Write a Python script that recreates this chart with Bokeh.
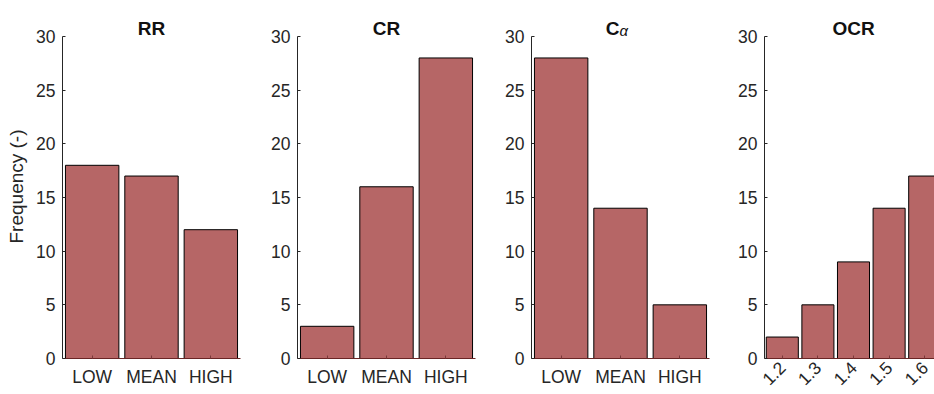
import math
from bokeh.plotting import figure
from bokeh.layouts import row
from bokeh.models import FactorRange, Range1d, FixedTicker, Label
from bokeh.embed import file_html
from bokeh.resources import INLINE

# ---- data ----
categories = ["LOW", "MEAN", "HIGH"]
rr_counts = [18, 17, 12]
cr_counts = [3, 16, 28]
ca_counts = [28, 14, 5]
ocr_bins = [1.2, 1.3, 1.4, 1.5, 1.6]
ocr_counts = [2, 5, 9, 14, 17]
y_ticks = [0, 5, 10, 15, 20, 25, 30]

FONT = "Liberation Sans"
BAR = "#b66666"
AX = "#262626"
H = 393
TOP = 14
BOTTOM = 35
YMAX = 30 * 344 / 322   # frame extends above 30 so titles can live inside it
CAT_MID = len(categories) / 2
OCR_MID = (ocr_bins[0] + ocr_bins[-1]) / 2


def title_label(p, x, text, align="center", x_offset=0):
    p.add_layout(Label(x=x, y=30, text=text, x_offset=x_offset, y_offset=8,
                       text_font=FONT, text_font_size="19px", text_font_style="bold",
                       text_color="#111111", text_align=align, text_baseline="alphabetic"))


def make(width, left, right, x_range):
    p = figure(width=width, height=H, x_range=x_range, y_range=Range1d(0, YMAX),
               title=None, output_backend="svg", toolbar_location=None,
               min_border_left=left, min_border_right=right,
               min_border_top=TOP, min_border_bottom=BOTTOM)
    p.outline_line_color = None
    p.xgrid.visible = False
    p.ygrid.visible = False
    p.background_fill_color = "white"
    p.border_fill_color = "white"
    ya = p.yaxis[0]
    ya.ticker = FixedTicker(ticks=y_ticks)
    ya.bounds = (0, 30)
    ya.major_tick_in = 3
    ya.major_tick_out = 0
    ya.minor_tick_in = 0
    ya.minor_tick_out = 0
    ya.axis_line_color = AX
    ya.major_tick_line_color = AX
    ya.major_label_text_font = FONT
    ya.major_label_text_font_size = "17.5px"
    ya.major_label_text_color = AX
    ya.major_label_standoff = 7
    xa = p.xaxis[0]
    xa.major_tick_in = 3
    xa.major_tick_out = 0
    xa.minor_tick_in = 0
    xa.minor_tick_out = 0
    xa.axis_line_color = "#6a2626"
    xa.major_tick_line_color = "#7a3a3a"
    xa.major_label_text_font = FONT
    xa.major_label_text_font_size = "17.5px"
    xa.major_label_text_color = AX
    xa.major_label_standoff = 8
    return p


p1 = make(260, 62, 20, FactorRange(factors=categories, range_padding=0))
p1.vbar(x=categories, top=rr_counts, width=0.9, fill_color=BAR, line_color="black", line_width=1)
p1.yaxis.axis_label = "Frequency (-)"
p1.yaxis.axis_label_text_font = FONT
p1.yaxis.axis_label_text_font_size = "19px"
p1.yaxis.axis_label_text_font_style = "normal"
p1.yaxis.axis_label_text_color = AX
p1.yaxis.axis_label_standoff = 6
title_label(p1, CAT_MID, "RR")

p2 = make(235, 37, 20, FactorRange(factors=categories, range_padding=0))
p2.vbar(x=categories, top=cr_counts, width=0.9, fill_color=BAR, line_color="black", line_width=1)
title_label(p2, CAT_MID, "CR")

p3 = make(234, 36, 20, FactorRange(factors=categories, range_padding=0))
p3.vbar(x=categories, top=ca_counts, width=0.9, fill_color=BAR, line_color="black", line_width=1)
title_label(p3, CAT_MID, "C", align="right", x_offset=-1)
p3.add_layout(Label(x=CAT_MID, y=30, text="α", x_offset=-1, y_offset=6,
                    text_font=FONT, text_font_size="15px", text_font_style="italic",
                    text_color="#111111", text_align="left", text_baseline="alphabetic"))

p4 = make(205, 35, 0, Range1d(1.15, 1.6275))
p4.vbar(x=ocr_bins, top=ocr_counts, width=0.09, fill_color=BAR, line_color="black", line_width=1)
p4.xaxis.ticker = FixedTicker(ticks=ocr_bins)
p4.xaxis.major_label_orientation = math.pi / 4
p4.xaxis.major_label_standoff = 6
title_label(p4, OCR_MID, "OCR")

layout = row(p1, p2, p3, p4, spacing=0)
open("out.html", "w").write(file_html(layout, INLINE))
